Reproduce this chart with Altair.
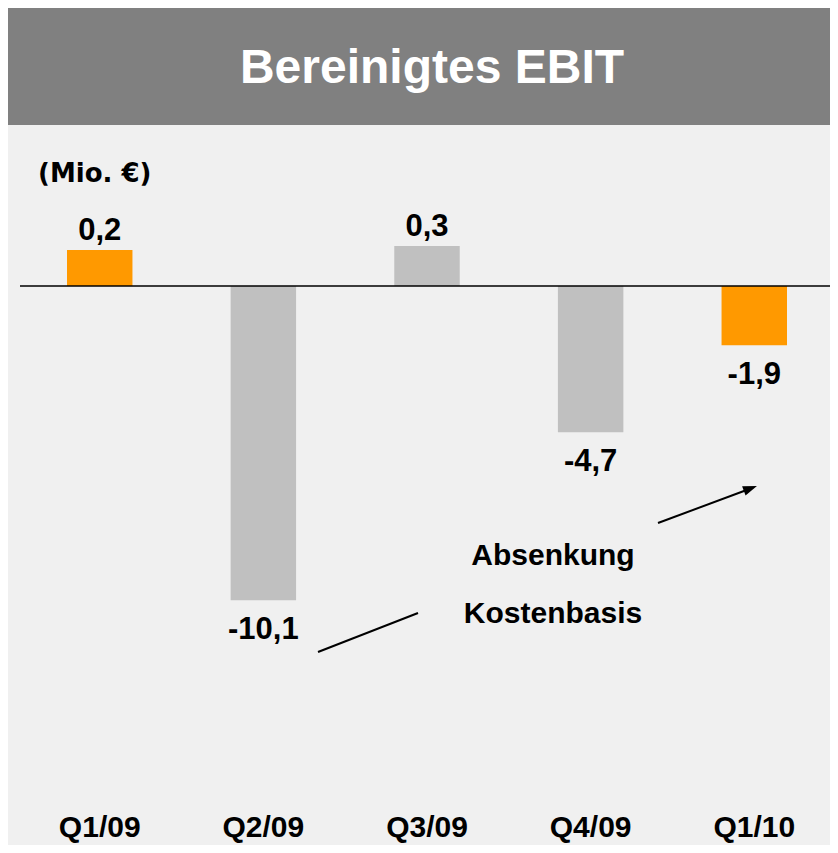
import altair as alt
import pandas as pd

# ---- data ----
quarters = ["Q1/09", "Q2/09", "Q3/09", "Q4/09", "Q1/10"]
ebit = [0.2, -10.1, 0.3, -4.7, -1.9]                 # stated values (Mio. €)
bar_drawn = [1.16, -10.1, 1.29, -4.7, -1.9]           # bar heights as drawn in the reference
value_labels = ["0,2", "-10,1", "0,3", "-4,7", "-1,9"]
bar_colors = ["#FF9900", "#C0C0C0", "#C0C0C0", "#C0C0C0", "#FF9900"]

title_text = "Bereinigtes EBIT"
unit_text = "(Mio. €)"
note_lines = ["Absenkung", "Kostenbasis"]

df = pd.DataFrame({
    "quarter": quarters,
    "ebit": ebit,
    "drawn": bar_drawn,
    "label": value_labels,
    "color": bar_colors,
})
one = pd.DataFrame({"z": [0]})

W, H = 822, 837
FONT = "Liberation Sans"
YDOM = [-17.97, 8.94]

xs = alt.X("quarter:N", sort=quarters, axis=None,
           scale=alt.Scale(type="band", domain=quarters, range=[59, 779],
                           paddingInner=0.6, paddingOuter=0, round=False))
ys = alt.Y("drawn:Q", axis=None,
           scale=alt.Scale(domain=YDOM, nice=False, zero=False))

header = alt.Chart(one).mark_rect(color="#808080").encode(
    x=alt.value(0), x2=alt.value(W), y=alt.value(0), y2=alt.value(117))

title = alt.Chart(one).mark_text(
    text=title_text, font=FONT, fontSize=48, fontWeight="bold",
    color="white", align="center", baseline="alphabetic").encode(
    x=alt.value(424), y=alt.value(75))

unit = alt.Chart(one).mark_text(
    text=unit_text, font="DejaVu Sans", fontSize=26, fontWeight="bold",
    color="black", align="left", baseline="alphabetic").encode(
    x=alt.value(30), y=alt.value(174))

bars = alt.Chart(df).mark_bar().encode(
    x=xs, y=ys, color=alt.Color("color:N", scale=None))

zero = alt.Chart(one).mark_rule(color="black", strokeWidth=1.5).encode(
    y=alt.Y("z:Q", scale=alt.Scale(domain=YDOM, nice=False, zero=False), axis=None),
    x=alt.value(12), x2=alt.value(W))

pos_labels = alt.Chart(df).transform_filter("datum.ebit > 0").mark_text(
    font=FONT, fontSize=31, fontWeight="bold", color="black",
    align="center", baseline="alphabetic", dy=-10).encode(
    x=xs, y=ys, text="label:N")

neg_labels = alt.Chart(df).transform_filter("datum.ebit < 0").mark_text(
    font=FONT, fontSize=31, fontWeight="bold", color="black",
    align="center", baseline="alphabetic", dy=39).encode(
    x=xs, y=ys, text="label:N")

x_labels = alt.Chart(df).mark_text(
    font=FONT, fontSize=30, fontWeight="bold", color="black",
    align="center", baseline="alphabetic").encode(
    x=xs, y=alt.value(829), text="quarter:N")

note1 = alt.Chart(one).mark_text(
    text=note_lines[0], font=FONT, fontSize=30, fontWeight="bold",
    color="black", align="center", baseline="alphabetic").encode(
    x=alt.value(545), y=alt.value(557))
note2 = alt.Chart(one).mark_text(
    text=note_lines[1], font=FONT, fontSize=30, fontWeight="bold",
    color="black", align="center", baseline="alphabetic").encode(
    x=alt.value(545), y=alt.value(615))

line_left = alt.Chart(one).mark_rule(color="black", strokeWidth=2).encode(
    x=alt.value(310), y=alt.value(644), x2=alt.value(410), y2=alt.value(605))
line_right = alt.Chart(one).mark_rule(color="black", strokeWidth=2).encode(
    x=alt.value(650), y=alt.value(515), x2=alt.value(744), y2=alt.value(480))
arrow_head = alt.Chart(one).mark_point(
    shape="M-1,-0.7L1,0L-1,0.7Z", filled=True, color="black", opacity=1,
    size=196, angle=339.5).encode(
    x=alt.value(742.4), y=alt.value(480.5))

chart = alt.layer(
    header, title, unit, bars, zero, pos_labels, neg_labels, x_labels,
    note1, note2, line_left, line_right, arrow_head
).properties(
    width=W, height=H, padding=0, background="#F0F0F0",
    autosize=alt.AutoSizeParams(type="none"),
).configure_view(stroke=None)

chart.save("out.html", embed_options={"renderer": "svg", "actions": False})
